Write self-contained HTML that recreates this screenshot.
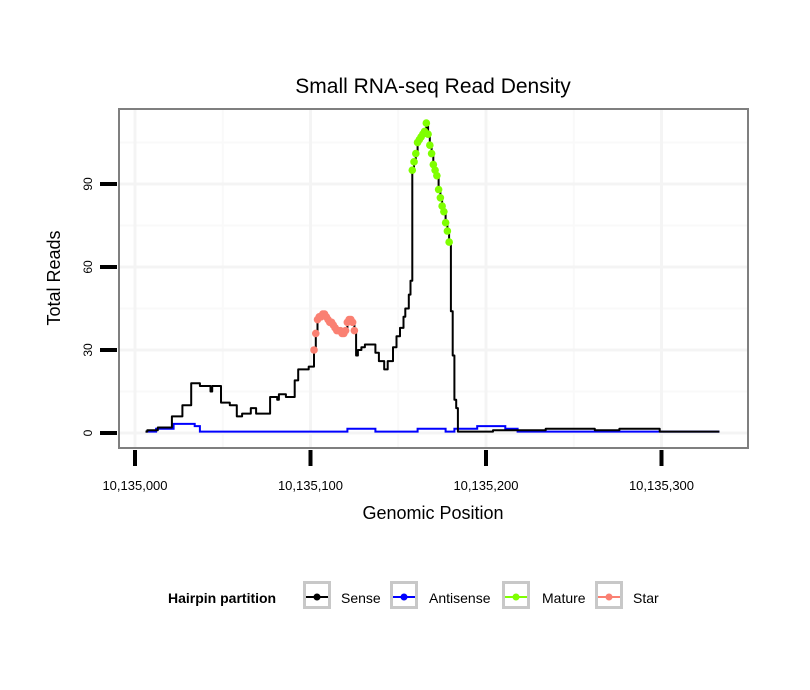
<!DOCTYPE html>
<html><head><meta charset="utf-8">
<style>
body{margin:0;background:#fff;}
svg{display:block;font-family:"Liberation Sans",Arial,sans-serif;}
</style></head>
<body>
<svg id="chart" width="810" height="690" viewBox="0 0 810 690" xmlns="http://www.w3.org/2000/svg">
<rect x="0" y="0" width="810" height="690" fill="#fff"/>
<text x="433" y="93" font-size="21" text-anchor="middle" fill="#000">Small RNA-seq Read Density</text>
<rect x="119" y="109" width="629" height="339" fill="#fff"/>
<g id="grid"></g>
<g id="series"></g>
<rect x="119" y="109" width="629" height="339" fill="none" stroke="#7f7f7f" stroke-width="2"/>
<g id="axes"></g>
<text x="433" y="519" font-size="18" text-anchor="middle">Genomic Position</text>
<text transform="translate(60,278) rotate(-90)" font-size="18" text-anchor="middle">Total Reads</text>
<g>
<text x="168" y="603" font-size="14" font-weight="bold">Hairpin partition</text>
<g>
<rect x="304.5" y="582.5" width="25" height="25" fill="#fff" stroke="#c8c8c8" stroke-width="3"/>
<line x1="306" y1="597" x2="328" y2="597" stroke="#000" stroke-width="2"/><circle cx="317" cy="597" r="3.5" fill="#000"/>
<text x="341" y="603" font-size="14">Sense</text></g>
<g>
<rect x="391.5" y="582.5" width="25" height="25" fill="#fff" stroke="#c8c8c8" stroke-width="3"/>
<line x1="393" y1="597" x2="415" y2="597" stroke="#0000ff" stroke-width="2"/><circle cx="404" cy="597" r="3.5" fill="#0000ff"/>
<text x="429" y="603" font-size="14">Antisense</text></g>
<g>
<rect x="503.5" y="582.5" width="25" height="25" fill="#fff" stroke="#c8c8c8" stroke-width="3"/>
<line x1="505" y1="597" x2="527" y2="597" stroke="#7fff00" stroke-width="2"/><circle cx="516" cy="597" r="3.5" fill="#7fff00"/>
<text x="542" y="603" font-size="14">Mature</text></g>
<g>
<rect x="596.5" y="582.5" width="25" height="25" fill="#fff" stroke="#c8c8c8" stroke-width="3"/>
<line x1="598" y1="597" x2="620" y2="597" stroke="#fa8072" stroke-width="2"/><circle cx="609" cy="597" r="3.5" fill="#fa8072"/>
<text x="633" y="603" font-size="14">Star</text></g>
</g>
</svg>
<script>
const xTicks=[0,100,200,300];
const xTickLabels=["10,135,000","10,135,100","10,135,200","10,135,300"];
const yTicks=[0,30,60,90];
const senseStarts=[6,7,13,21,27,32,37,43,44,49,54,58,61,66,69,77,81,82,86,91,93,99,102,103,104,105,106,107,108,109,110,111,112,113,114,115,116,117,118,119,120,121,122,123,124,125,126,127,129,131,135,137,139,142,144,147,149,151,153,154,156,157,158,159,160,161,162,163,164,165,166,167,168,169,170,171,172,173,174,175,176,177,178,179,180,181,182,183,184,204,234,262,276,299];
const senseValues=[0.5,1,2,6,10,18,17,15,17,11,10,6,7,9,7,13,12,14,13,19,23,24,30,36,41,42,42,43,43,42,41,40,40,39,38,37,37,37,36,36,37,40,41,41,40,37,28,30,31,32,32,29,26,23,26,31,35,38,42,45,50,55,95,98,101,105,106,107,108,109,112,108,104,101,97,95,93,88,85,82,80,76,73,69,44,28,12,9,0.5,1,1.5,1,1.5,0.5];
const senseEnd=333;
const antiStarts=[6,12,22,34,37,121,137,161,177,182,195,211,218];
const antiValues=[0.5,1.5,3.3,2.5,0.5,1.5,0.5,1.5,0.5,1.5,2.5,1.5,0.5];
const antiEnd=333;
const starPos=[102,103,104,105,106,107,108,109,110,111,112,113,114,115,116,117,118,119,120,121,122,123,124,125];
const starVals=[30,36,41,42,42,43,43,42,41,40,40,39,38,37,37,37,36,36,37,40,41,41,40,37];
const maturePos=[158,159,160,161,162,163,164,165,166,167,168,169,170,171,172,173,174,175,176,177,178,179];
const matureVals=[95,98,101,105,106,107,108,109,112,108,104,101,97,95,93,88,85,82,80,76,73,69];

const NS="http://www.w3.org/2000/svg";
function X(p){return 135+p*1.755;}
function Y(v){return 433-v*2.767;}
function mk(tag,attrs,parent){const e=document.createElementNS(NS,tag);for(const k in attrs)e.setAttribute(k,attrs[k]);parent.appendChild(e);return e;}
const grid=document.getElementById('grid'),series=document.getElementById('series'),axes=document.getElementById('axes');
[15,45,75,105].forEach(v=>{const l=mk('line',{x1:119,x2:748,y1:Y(v),y2:Y(v),stroke:'#f9f9f9','stroke-width':2},grid);

});
[50,150,250].forEach(p=>{const l=mk('line',{x1:X(p),x2:X(p),y1:109,y2:448,stroke:'#f9f9f9','stroke-width':2},grid);

});
yTicks.forEach(v=>{const l=mk('line',{x1:119,x2:748,y1:Y(v),y2:Y(v),stroke:'#f4f4f4','stroke-width':3},grid);

});
xTicks.forEach(p=>{const l=mk('line',{x1:X(p),x2:X(p),y1:109,y2:448,stroke:'#f4f4f4','stroke-width':3},grid);

});
function stepPath(starts,vals,end){let d='';for(let i=0;i<starts.length;i++){const x0=X(starts[i]),x1=X(i+1<starts.length?starts[i+1]:end),y=Y(vals[i]);d+=(i==0?'M':'L')+x0.toFixed(1)+','+y.toFixed(1)+'L'+x1.toFixed(1)+','+y.toFixed(1);}return d;}
const ap=mk('path',{d:stepPath(antiStarts,antiValues,antiEnd),fill:'none',stroke:'#0000ff','stroke-width':2},series);


const sp=mk('path',{d:stepPath(senseStarts,senseValues,senseEnd),fill:'none',stroke:'#000','stroke-width':2,'stroke-linejoin':'round'},series);


starPos.forEach((p,i)=>{const c=mk('circle',{cx:X(p),cy:Y(starVals[i]),r:3.8,fill:'#fa8072'},series);

});
maturePos.forEach((p,i)=>{const c=mk('circle',{cx:X(p),cy:Y(matureVals[i]),r:3.8,fill:'#7fff00'},series);

});
yTicks.forEach(v=>{const t=mk('line',{x1:100,x2:117,y1:Y(v),y2:Y(v),stroke:'#000','stroke-width':4},axes);


const tx=mk('text',{transform:`translate(92,${Y(v)}) rotate(-90)`,'font-size':12,'text-anchor':'middle'},axes);
tx.textContent=String(v);

});
xTicks.forEach((p,i)=>{const t=mk('line',{x1:X(p),x2:X(p),y1:450,y2:466,stroke:'#000','stroke-width':4},axes);


const tx=mk('text',{x:X(p),y:490,'font-size':13,'text-anchor':'middle'},axes);
tx.textContent=xTickLabels[i];

});
</script>
</body></html>
